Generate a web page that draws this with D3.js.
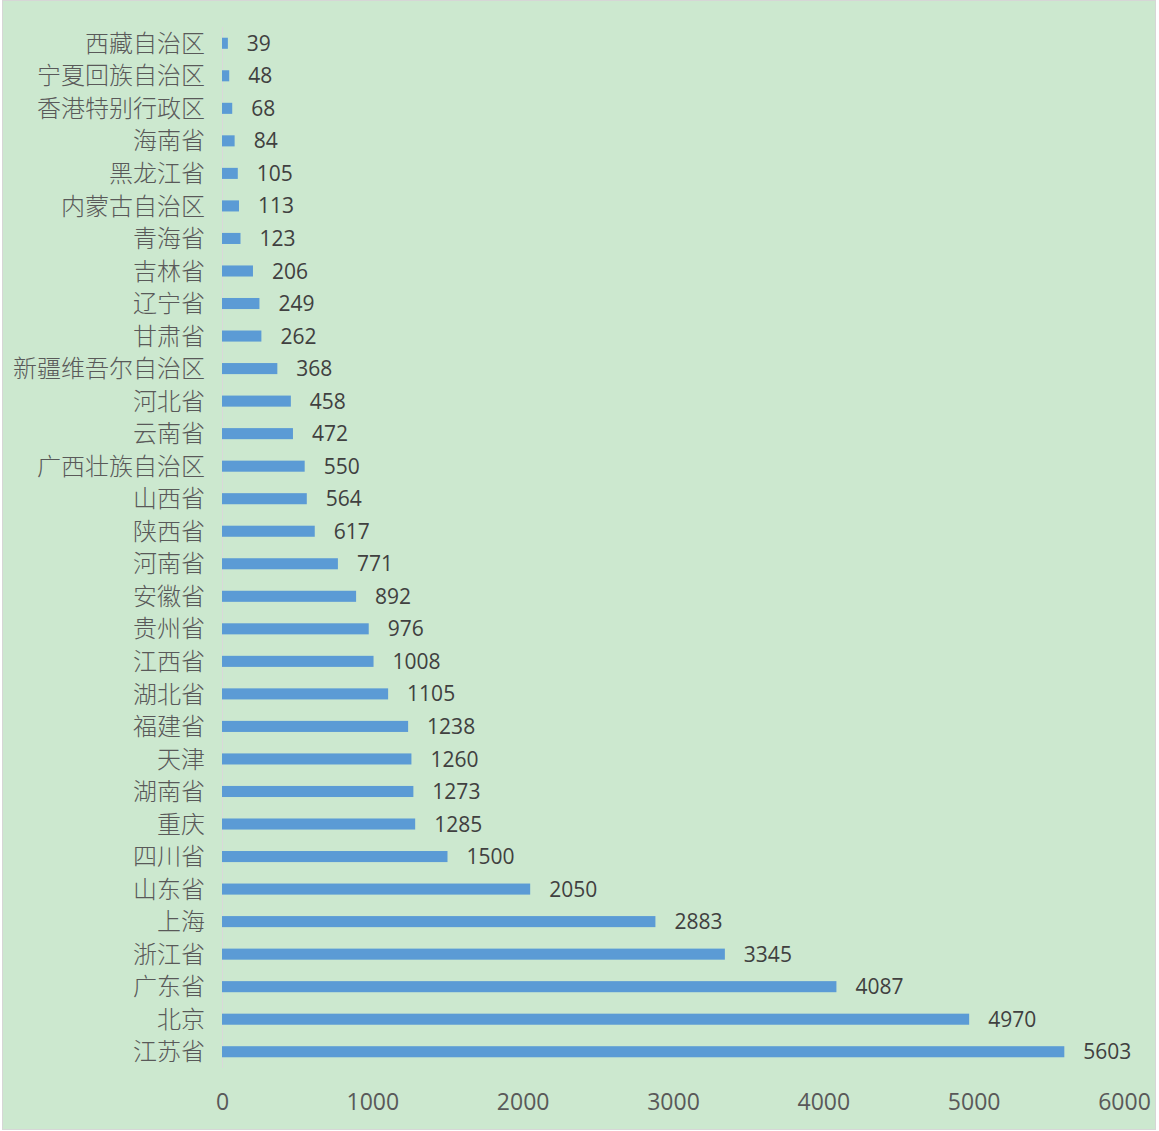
<!DOCTYPE html>
<html><head><meta charset="utf-8">
<script src="https://cdn.jsdelivr.net/npm/d3@7"></script>
<style>html,body{margin:0;padding:0;background:#fff;}svg{display:block;}</style>
</head><body>
<svg id="c" width="1159" height="1131"></svg>
<script>
const categories = ["西藏自治区","宁夏回族自治区","香港特别行政区","海南省","黑龙江省","内蒙古自治区","青海省","吉林省","辽宁省","甘肃省","新疆维吾尔自治区","河北省","云南省","广西壮族自治区","山西省","陕西省","河南省","安徽省","贵州省","江西省","湖北省","福建省","天津","湖南省","重庆","四川省","山东省","上海","浙江省","广东省","北京","江苏省"];
const values = [39,48,68,84,105,113,123,206,249,262,368,458,472,550,564,617,771,892,976,1008,1105,1238,1260,1273,1285,1500,2050,2883,3345,4087,4970,5603];
const tickValues = [0,1000,2000,3000,4000,5000,6000];

const svg = d3.select("#c");
svg.append("rect").attr("x",2.5).attr("y",0.5).attr("width",1153).attr("height",1129)
  .attr("fill","#cce8cf").attr("stroke","#d6d6d6").attr("stroke-width",1);

const x = d3.scaleLinear().domain([0,6000]).range([222,1124]);
const y = d3.scaleBand().domain(categories).range([27,1068]).paddingInner(0.66).paddingOuter(0.33);

svg.append("line").attr("x1",222.5).attr("x2",222.5).attr("y1",27).attr("y2",1068)
  .attr("stroke","#d9d9d9").attr("stroke-width",1);

svg.selectAll("rect.bar").data(values).join("rect").attr("class","bar")
  .attr("x",x(0)).attr("y",(d,i)=>y(categories[i]))
  .attr("width",d=>x(d)-x(0)).attr("height",y.bandwidth())
  .attr("fill","#5b9bd5");

svg.selectAll("text.val").data(values).join("text").attr("class","val")
  .attr("x",d=>x(d)+19).attr("y",(d,i)=>y(categories[i])+y.bandwidth()/2)
  .attr("dy","0.36em").attr("font-family","'Open Sans', sans-serif").attr("font-size",21)
  .attr("fill","#404040").text(d=>d);

svg.selectAll("text.cat").data(categories).join("text").attr("class","cat")
  .attr("x",205).attr("y",d=>y(d)+y.bandwidth()/2).attr("dy","0.36em")
  .attr("text-anchor","end").attr("font-family","'Noto Sans CJK SC', sans-serif").attr("font-weight",300)
  .attr("font-size",24).attr("fill","#595959").text(d=>d);

const axis = d3.axisBottom(x).tickValues(tickValues).tickSize(0).tickPadding(0).tickFormat(d3.format("d"));
const g = svg.append("g").attr("transform","translate(0,1102)").call(axis);
g.select(".domain").remove();
g.selectAll("text").attr("dy","0.36em").attr("y",0).attr("font-family","'Open Sans', sans-serif")
  .attr("font-size",23).attr("fill","#595959");
</script>
</body></html>
